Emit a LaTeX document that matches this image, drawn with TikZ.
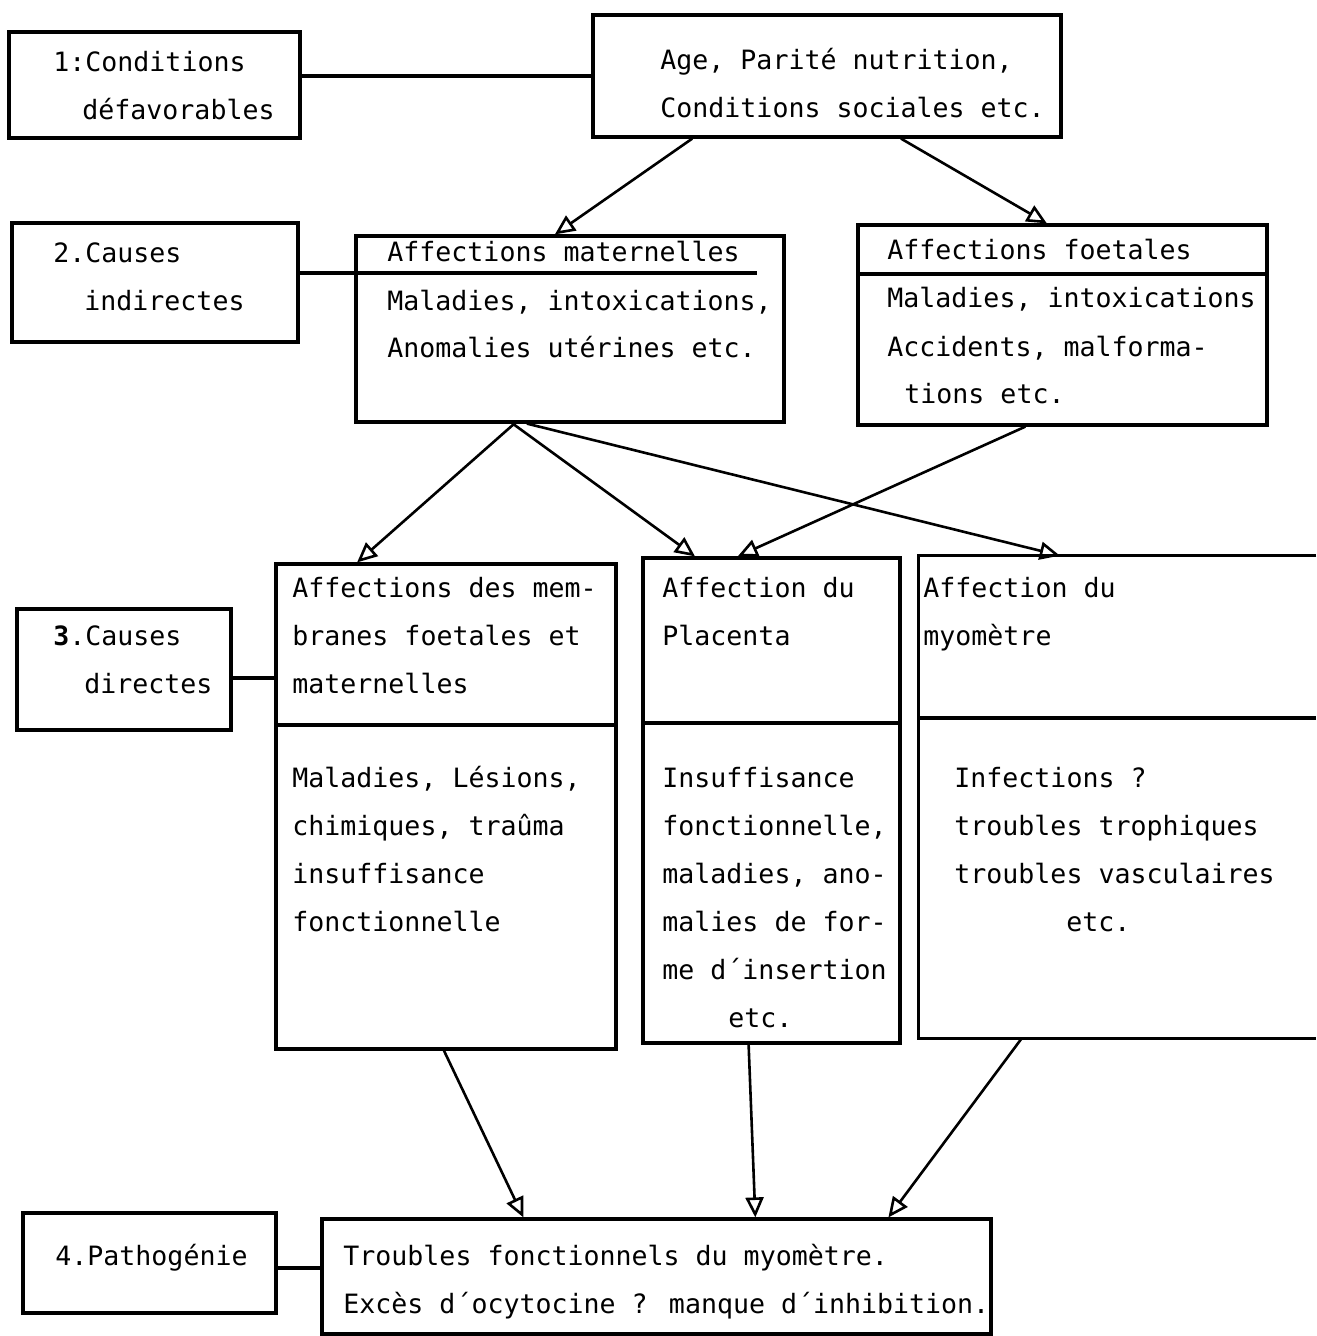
\documentclass[tikz,border=0pt]{standalone}
\usepackage{fontspec}
\newfontfamily\tw{DejaVu Sans Mono}
\usetikzlibrary{arrows.meta,fit,calc}
\begin{document}
\begin{tikzpicture}[x=0.5pt,y=-0.5pt,
  box/.style={draw, line width=1.6pt, inner sep=0pt},
  frame/.style={inner sep=0pt},
  txt/.style={font=\tw\fontsize{13.3}{24}\selectfont, align=left, anchor=base west, inner sep=0pt},
  link/.style={line width=1.6pt},
  arr/.style={line width=1.3pt, -{Triangle[open, length=10pt, width=9pt]}},
]
\useasboundingbox[fill=white] (0,0) rectangle (1316,1336);

% boxes
\node[box, fit={(9,32) (300,138)}] (c1) {};
\node[box, fit={(593,15) (1061,137)}] (age) {};
\node[box, fit={(12,223) (298,342)}] (c2) {};
\node[box, fit={(356,236) (784,422)}] (mat) {};
\node[box, fit={(858,225) (1267,425)}] (foe) {};
\node[box, fit={(17,609) (231,730)}] (c3) {};
\node[box, fit={(276,564) (616,1049)}] (mem) {};
\node[box, fit={(643,558) (900,1043)}] (pla) {};
\node[frame, fit={(919,556) (1316,1038)}] (myo) {};
\draw[link] (myo.north east) -- (myo.north west) -- (myo.south west) -- (myo.south east);
\node[box, fit={(23,1213) (276,1313)}] (c4) {};
\node[box, fit={(322,1219) (991,1334)}] (trou) {};

% separators and side links
\coordinate (matsep) at (757,273);
\draw[link] (c1.east |- age.west) -- (age.west);
\draw[link] (c2.east |- matsep) -- (matsep);
\draw[link] (foe.west |- 0,274) -- (foe.east |- 0,274);
\draw[link] (c3.east |- 0,678) -- (mem.west |- 0,678);
\draw[link] (mem.west |- 0,725) -- (mem.east |- 0,725);
\draw[link] (pla.west |- 0,723) -- (pla.east |- 0,723);
\draw[link] (myo.west |- 0,718) -- (myo.east |- 0,718);
\draw[link] (c4.east |- 0,1268) -- (trou.west |- 0,1268);

% arrows
\draw[arr] ($(age.south west)!0.214!(age.south east)$) -- ($(mat.north west)!0.465!(mat.north east)$);
\draw[arr] ($(age.south west)!0.657!(age.south east)$) -- ($(foe.north west)!0.462!(foe.north east)$);
\draw[arr] ($(mat.south west)!0.371!(mat.south east)$) -- ($(mem.north west)!0.241!(mem.north east)$);
\draw[arr] ($(mat.south west)!0.367!(mat.south east)$) -- ($(pla.north west)!0.206!(pla.north east)$);
\draw[arr] ($(mat.south west)!0.400!(mat.south east)$) -- ($(myo.north west)!0.355!(myo.north east)$);
\draw[arr] ($(foe.south west)!0.41!(foe.south east)$) -- ($(pla.north west)!0.37!(pla.north east)$);
\draw[arr] ($(mem.south west)!0.494!(mem.south east)$) -- ($(trou.north west)!0.302!(trou.north east)$);
\draw[arr] ($(pla.south west)!0.412!(pla.south east)$) -- ($(trou.north west)!0.647!(trou.north east)$);
\draw[arr] ($(myo.south west)!0.259!(myo.south east)$) -- ($(trou.north west)!0.845!(trou.north east)$);

% texts (positioned at the baseline of their last line)
\node[txt] (t1) at (53,120) {1:Conditions\\\hspace*{14.5pt}défavorables};
\node[txt] (tage) at (660,118) {Age, Parité nutrition,\\Conditions sociales etc.};
\node[txt] (t2) at (53,311) {2.Causes\\\hspace*{15.5pt}indirectes};
\node[txt] (tmat) at (387,358) {Affections maternelles\\Maladies, intoxications,\\Anomalies utérines etc.};
\node[txt] (tfoe) at (887,404) {Affections foetales\\Maladies, intoxications\\Accidents, malforma-\\\hspace*{8.5pt}tions etc.};
\node[txt] (t3) at (53,693) {\textbf{3}.Causes\\\hspace*{15.5pt}directes};
\node[txt] (tmem) at (292,693) {Affections des mem-\\branes foetales et\\maternelles};
\node[txt] (tmemb) at (292,931) {Maladies, Lésions,\\chimiques, traûma\\insuffisance\\fonctionnelle};
\node[txt] (tpla) at (662,645) {Affection du\\Placenta};
\node[txt] (tplab) at (662,1027) {Insuffisance\\fonctionnelle,\\maladies, ano-\\malies de for-\\me d´insertion\\\hspace*{33pt}etc.};
\node[txt] (tmyo) at (923,645) {Affection du\\myomètre};
\node[txt] (tmyob) at (954,931) {Infections ?\\troubles trophiques\\troubles vasculaires\\\hspace*{56pt}etc.};
\node[txt] (t4) at (55,1265) {4.Pathogénie};
\node[txt] (ttrou) at (343,1313) {Troubles fonctionnels du myomètre.\\Excès d´ocytocine ? manque d´inhibition.};
\end{tikzpicture}
\end{document}
